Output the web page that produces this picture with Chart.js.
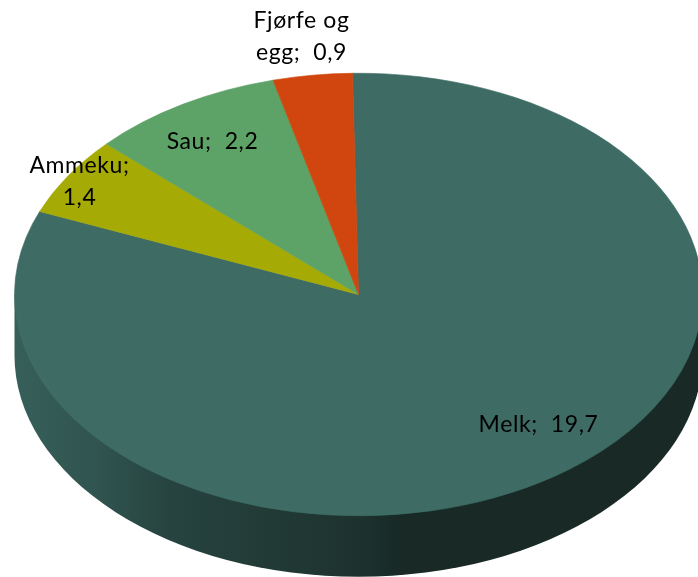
<!DOCTYPE html>
<html>
<head>
<meta charset="utf-8">
<style>
html,body{margin:0;padding:0;background:#fff;}
#wrap{position:relative;width:698px;height:577px;overflow:hidden;}
canvas{display:block;}
</style>
<script src="https://cdn.jsdelivr.net/npm/chart.js@4"></script>
</head>
<body>
<div id="wrap"><canvas id="c" width="698" height="577"></canvas></div>
<script>
const categories = ["Melk", "Ammeku", "Sau", "Fjørfe og egg"];
const values = [19.7, 1.4, 2.2, 0.9];
const valueLabels = ["19,7", "1,4", "2,2", "0,9"];
const colors = ["#3E6C65", "#A6AA04", "#5DA266", "#D0460E"];

const labelLines = [
  ["Melk;  19,7"],
  ["Ammeku;", "1,4"],
  ["Sau;  2,2"],
  ["Fjørfe og", "egg;  0,9"]
];
// label centres as offsets from the pie centre, in pixels
const labelOffsets = [[180, 130], [-279, -113], [-146, -153], [-57, -258]];
const lineHeight = 32;

const horizontalRadius = 344;
const depth = 61;
const sideShades = [[0, .88], [.12, .78], [.22, .63], [.5, .46], [.56, .38], [1, .38]];

function shade(hex, f) {
  const n = parseInt(hex.slice(1), 16);
  return `rgb(${Math.round((n >> 16) * f)},${Math.round(((n >> 8) & 255) * f)},${Math.round((n & 255) * f)})`;
}

const pie3d = {
  id: "pie3d",
  beforeDatasetDraw(chart) {
    const ctx = chart.ctx;
    const arcs = chart.getDatasetMeta(0).data;
    const cx = arcs[0].x, cy = arcs[0].y, r = arcs[0].outerRadius;
    arcs.forEach((arc, i) => {
      for (const shift of [0, Math.PI * 2]) {
        const a0 = Math.max(arc.startAngle - shift, 0);
        const a1 = Math.min(arc.endAngle - shift, Math.PI);
        if (a1 <= a0) continue;
        const g = ctx.createLinearGradient(cx - horizontalRadius, 0, cx + horizontalRadius, 0);
        sideShades.forEach(s => g.addColorStop(s[0], shade(colors[i], s[1])));
        ctx.save();
        ctx.beginPath();
        ctx.moveTo(cx + horizontalRadius * Math.cos(a0), cy + r * Math.sin(a0));
        ctx.lineTo(cx + horizontalRadius * Math.cos(a1), cy + r * Math.sin(a1));
        ctx.ellipse(cx, cy + depth, horizontalRadius, r, 0, a1, a0, true);
        ctx.closePath();
        ctx.fillStyle = g;
        ctx.fill();
        ctx.restore();
      }
    });
    ctx.save();
    ctx.translate(cx, cy);
    ctx.scale(horizontalRadius / r, 1);
    ctx.translate(-cx, -cy);
  },
  afterDatasetDraw(chart) {
    chart.ctx.restore();
  },
  afterDraw(chart) {
    const ctx = chart.ctx;
    const arcs = chart.getDatasetMeta(0).data;
    ctx.save();
    ctx.fillStyle = "#000";
    ctx.font = "23px Lato";
    ctx.letterSpacing = "0.6px";
    ctx.textAlign = "center";
    ctx.textBaseline = "middle";
    arcs.forEach((arc, i) => {
      const lines = labelLines[i];
      lines.forEach((t, k) => {
        const y = arc.y + labelOffsets[i][1] + (k - (lines.length - 1) / 2) * lineHeight;
        ctx.fillText(t, arc.x + labelOffsets[i][0], y);
      });
    });
    ctx.restore();
  }
};

new Chart(document.getElementById("c"), {
  type: "pie",
  data: {
    labels: categories,
    datasets: [{
      data: values,
      backgroundColor: colors,
      borderColor: colors,
      borderWidth: 0.5,
      clip: false
    }]
  },
  options: {
    responsive: false,
    animation: false,
    rotation: -1,
    layout: { padding: { left: 19, right: -5, top: 73, bottom: 61 } },
    plugins: { legend: { display: false }, tooltip: { enabled: false } }
  },
  plugins: [pie3d]
});
</script>
</body>
</html>
